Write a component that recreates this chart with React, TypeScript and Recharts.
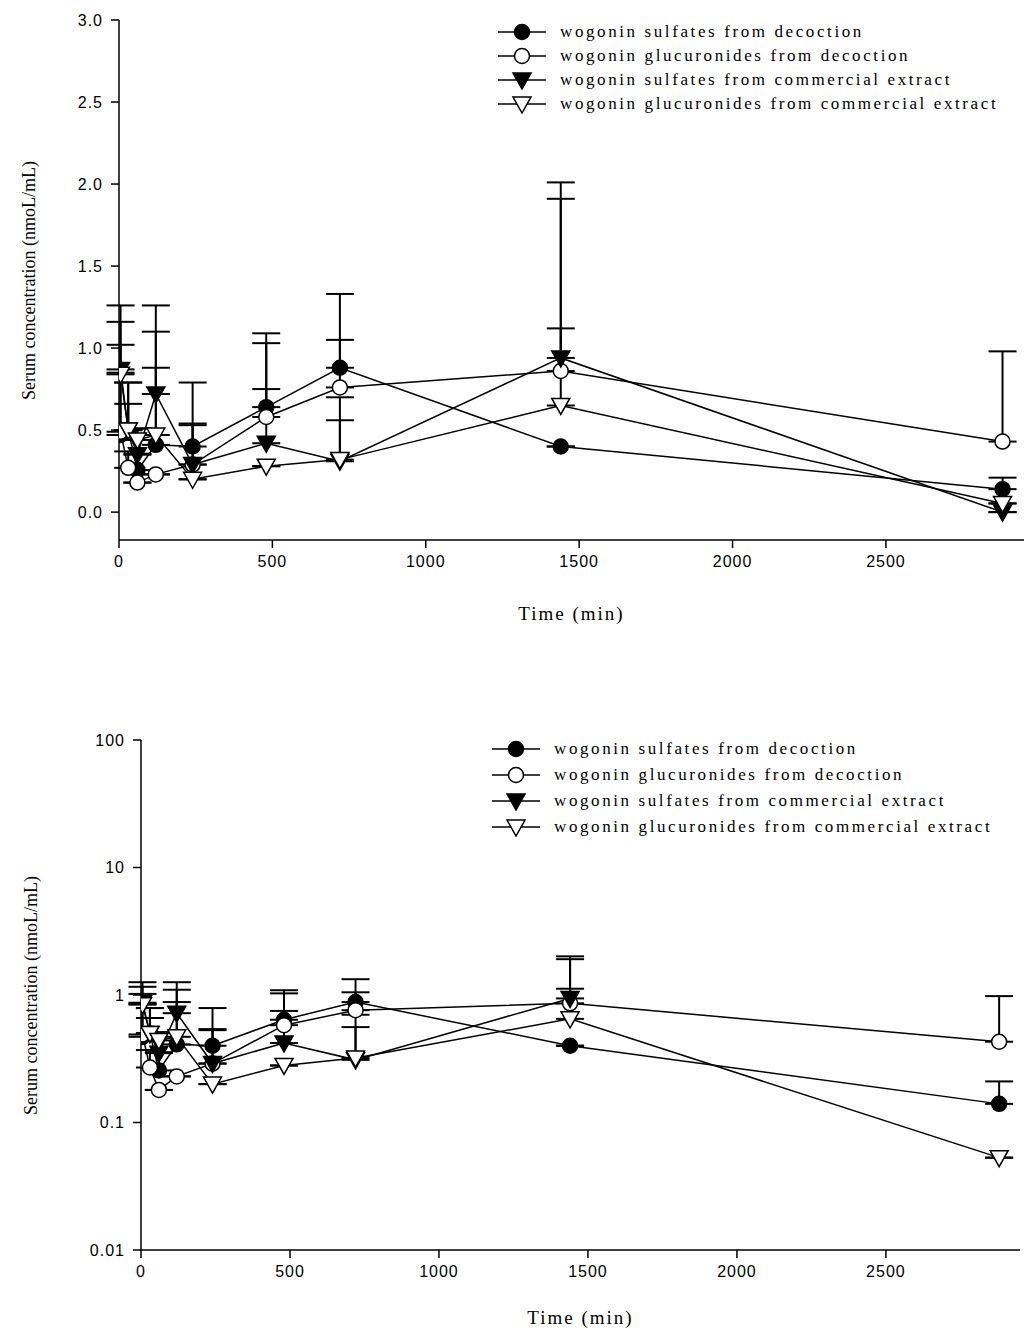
import React from "react";
import { LineChart, Line, XAxis, YAxis, ErrorBar } from "recharts";

const times = [5, 30, 60, 120, 240, 480, 720, 1440, 2880];
const sulfDec = [0.47, 0.5, 0.256, 0.41, 0.4, 0.64, 0.88, 0.4, 0.14];
const sulfDecSd = [0.38, 0.29, 0.1, 0.47, 0.39, 0.45, 0.45, 0, 0.07];
const glucDec = [0.49, 0.27, 0.18, 0.23, 0.29, 0.58, 0.76, 0.86, 0.43];
const glucDecSd = [0.53, 0.1, 0.0, 0.0, 0.25, 0.45, 0.29, 1.05, 0.55];
const sulfCom = [0.87, 0.5, 0.35, 0.72, 0.29, 0.42, 0.31, 0.94, 0.0];
const sulfComSd = [0.39, 0.29, 0.16, 0.54, 0.24, 0.33, 0.39, 1.07, 0];
const glucCom = [0.84, 0.5, 0.44, 0.47, 0.2, 0.28, 0.32, 0.65, 0.053];
const glucComSd = [0.32, 0.16, 0.07, 0.63, 0.0, 0.0, 0.24, 0.47, 0.0];

const names = [
  "wogonin sulfates from decoction",
  "wogonin glucuronides from decoction",
  "wogonin sulfates from commercial extract",
  "wogonin glucuronides from commercial extract",
];

const build = (vals: number[], sd: number[], log: boolean) =>
  times
    .map((t, i) => ({ t, v: vals[i], e: [0, sd[i]] }))
    .filter((d) => !log || d.v > 0);

const series = [
  { vals: sulfDec, sd: sulfDecSd, shape: "circle", fill: "#000" },
  { vals: glucDec, sd: glucDecSd, shape: "circle", fill: "#fff" },
  { vals: sulfCom, sd: sulfComSd, shape: "tri", fill: "#000" },
  { vals: glucCom, sd: glucComSd, shape: "tri", fill: "#fff" },
];

const Marker = ({ shape, fill, cx, cy }: any) => {
  if (cx == null || cy == null) return null;
  if (shape === "circle")
    return <circle cx={cx} cy={cy} r={7.5} fill={fill} stroke="#000" strokeWidth={1.5} />;
  return (
    <path
      d={`M${cx - 9},${cy - 7} L${cx + 9},${cy - 7} L${cx},${cy + 9} Z`}
      fill={fill}
      stroke="#000"
      strokeWidth={1.5}
    />
  );
};

const serif = "'Liberation Serif', 'DejaVu Serif', serif";
const sans = "'Liberation Sans', Arial, sans-serif";

function LegendBox({ left, top, gap }: { left: number; top: number; gap: number }) {
  return (
    <div style={{ position: "absolute", left, top }}>
      {series.map((s, i) => (
        <div key={i} style={{ display: "flex", alignItems: "center", height: gap }}>
          <svg width={48} height={20}>
            <line x1={0} y1={10} x2={48} y2={10} stroke="#000" strokeWidth={1.5} />
            <Marker shape={s.shape} fill={s.fill} cx={24} cy={10} />
          </svg>
          <span style={{ marginLeft: 14, fontFamily: serif, fontSize: 17, letterSpacing: 2.6, whiteSpace: "nowrap" }}>
            {names[i]}
          </span>
        </div>
      ))}
    </div>
  );
}

function Panel({ log }: { log: boolean }) {
  const height = log ? 678 : 660;
  const margin = log
    ? { top: 80, right: 14, left: 81, bottom: 58 }
    : { top: 20, right: 10, left: 59, bottom: 90 };
  const tickStyle = { fontFamily: sans, fontSize: 16, fill: "#000", letterSpacing: 1 };
  return (
    <div style={{ position: "relative", width: 1034, height }}>
      <LineChart width={1034} height={height} margin={margin}>
        <XAxis
          type="number"
          dataKey="t"
          domain={[0, 2950]}
          ticks={[0, 500, 1000, 1500, 2000, 2500]}
          height={30}
          axisLine={{ stroke: "#000", strokeWidth: 1.5 }}
          tickLine={{ stroke: "#000", strokeWidth: 1.5 }}
          tickSize={8}
          tickMargin={8}
          tick={tickStyle}
          label={{ value: "Time (min)", position: "insideBottom", offset: log ? -44 : -50, style: { fontFamily: serif, fontSize: 19, letterSpacing: 2, fill: "#000" } }}
          allowDataOverflow
        />
        {log ? (
          <YAxis
            type="number"
            scale="log"
            domain={[0.01, 100]}
            ticks={[0.01, 0.1, 1, 10, 100]}
            tickFormatter={(v: number) => String(v)}
            allowDataOverflow
            width={60}
            axisLine={{ stroke: "#000", strokeWidth: 1.5 }}
            tickLine={{ stroke: "#000", strokeWidth: 1.5 }}
            tickSize={8}
            tickMargin={8}
            tick={tickStyle}
            label={{ value: "Serum concentration (nmoL/mL)", angle: -90, position: "insideLeft", offset: -50, dy: 120, style: { fontFamily: serif, fontSize: 18, fill: "#000" } }}
          />
        ) : (
          <YAxis
            type="number"
            domain={[-0.17, 3]}
            ticks={[0, 0.5, 1, 1.5, 2, 2.5, 3]}
            tickFormatter={(v: number) => v.toFixed(1)}
            allowDataOverflow
            width={60}
            axisLine={{ stroke: "#000", strokeWidth: 1.5 }}
            tickLine={{ stroke: "#000", strokeWidth: 1.5 }}
            tickSize={8}
            tickMargin={8}
            tick={tickStyle}
            label={{ value: "Serum concentration (nmoL/mL)", angle: -90, position: "insideLeft", offset: -30, dy: 120, style: { fontFamily: serif, fontSize: 18, fill: "#000" } }}
          />
        )}
        {series.map((s, i) => (
          <Line
            key={i}
            data={build(s.vals, s.sd, log)}
            dataKey="v"
            stroke="#000"
            strokeWidth={1.5}
            isAnimationActive={false}
            dot={(p: any) => <Marker key={p.index} shape={s.shape} fill={s.fill} cx={p.cx} cy={p.cy} />}
            activeDot={false}
          >
            <ErrorBar dataKey="e" direction="y" width={14} stroke="#000" strokeWidth={2} />
          </Line>
        ))}
      </LineChart>
      {log ? <LegendBox left={492} top={76} gap={26} /> : <LegendBox left={498} top={20} gap={24} />}
    </div>
  );
}

export default function App() {
  return (
    <div style={{ margin: -8, width: 1034, height: 1338, background: "#fff" }}>
      <Panel log={false} />
      <Panel log={true} />
    </div>
  );
}
